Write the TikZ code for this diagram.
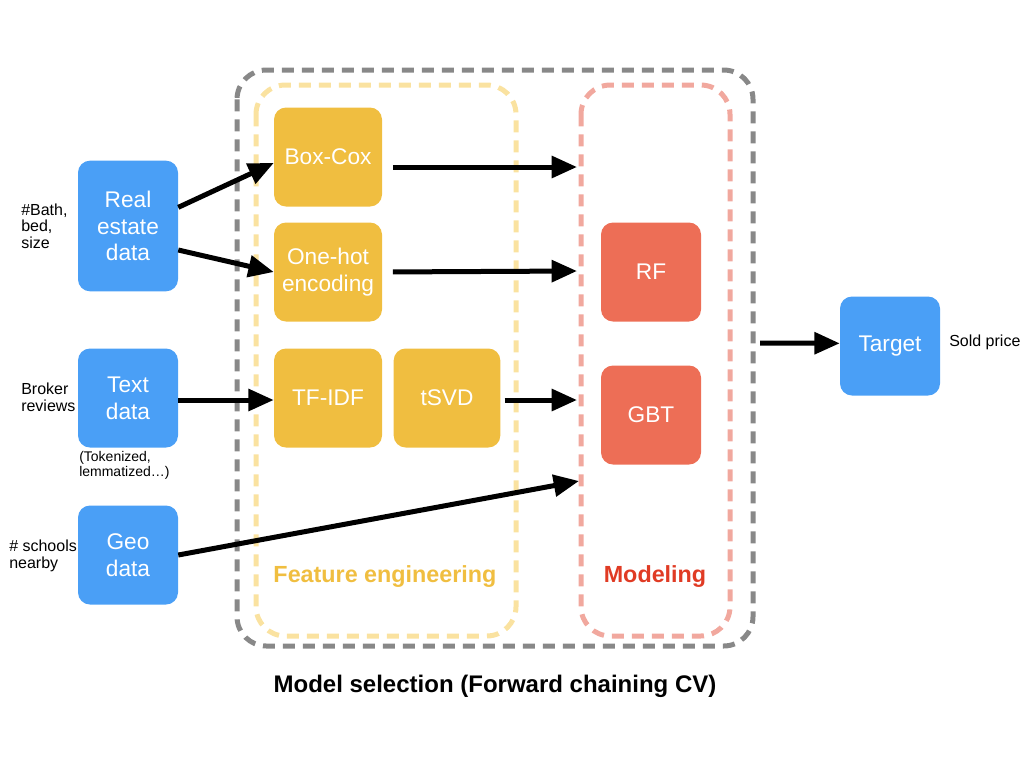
\documentclass[tikz,border=0pt]{standalone}
\usepackage{fontspec}
\setmainfont{Liberation Sans}
\usetikzlibrary{arrows.meta, positioning}

\definecolor{srcblue}{RGB}{74,159,246}
\definecolor{featyellow}{RGB}{240,190,64}
\definecolor{mdlred}{RGB}{237,110,86}
\definecolor{groupgray}{RGB}{136,136,136}
\definecolor{featlight}{RGB}{250,226,160}
\definecolor{mdllight}{RGB}{241,168,158}
\definecolor{mdltext}{RGB}{224,59,36}

\begin{document}
\begin{tikzpicture}[x=0.75pt, y=-0.75pt, on grid, node distance=89.25pt,
  box/.style={rounded corners=9pt, minimum width=75pt, minimum height=74.25pt,
    align=center, text=white, inner sep=2pt, font=\fontsize{17}{20}\selectfont},
  src/.style={box, fill=srcblue},
  feat/.style={box, fill=featyellow, minimum width=81pt},
  mdl/.style={box, fill=mdlred},
  flow/.style={line width=3.75pt, -{Triangle[length=19pt, width=16pt]}},
  group/.style={line width=3.75pt, dash pattern=on 9pt off 6pt, rounded corners=22pt},
  note/.style={anchor=west, inner sep=0pt, align=left, font=\fontsize{12}{12.5}\selectfont}]

  \useasboundingbox (0,0) rectangle (1024,768);

  % dashed groups
  \draw[group, groupgray] (237,70) rectangle (753,646);
  \draw[group, featlight] (256,85) rectangle (516,636);
  \draw[group, mdllight] (581,85) rectangle (730,636);

  % inputs
  \node[src, minimum height=98pt] (real) at (128,226) {Real\\estate\\data};
  \node[src] (text) at (128,398) {Text\\data};
  \node[src] (geo) at (128,555) {Geo\\data};

  % feature engineering
  \node[feat] (boxcox) at (328,157) {Box-Cox};
  \node[feat] (onehot) at (328,272) {One-hot\\encoding};
  \node[feat] (tfidf) at (328,398) {TF-IDF};
  \node[feat, minimum width=80pt] (tsvd) [right=of tfidf] {tSVD};

  % models
  \node[mdl] (rf) at (651,272) {RF};
  \node[mdl] (gbt) at (651,415) {GBT};

  \node[src] (target) at (890,346) {Target};

  % notes
  \node[note] (n_real) at (21,226) {\#Bath,\\bed,\\size};
  \node[note] (n_text) at (21,397) {Broker\\reviews};
  \node[note, font=\fontsize{10.5}{11.3}\selectfont] (n_tok) at (79,465) {(Tokenized,\\lemmatized…)};
  \node[note] (n_geo) at (9,556) {\# schools\\nearby};
  \node[note] (n_target) at (949,342) {Sold price};

  % group labels
  \node[font=\bfseries\fontsize{17.5}{20}\selectfont, text=featyellow] (l_feat) at (385,577) {Feature engineering};
  \node[font=\bfseries\fontsize{17.5}{20}\selectfont, text=mdltext] (l_mdl) at (655,577) {Modeling};
  \node[font=\bfseries\fontsize{18}{20}\selectfont] (l_sel) at (495,686) {Model selection (Forward chaining CV)};

  % free ends at the modeling group
  \coordinate (m_boxcox) at (577,167);
  \coordinate (m_onehot) at (577,271);
  \coordinate (m_tsvd) at (577,400);
  \coordinate (m_geo) at (579,481);
  \coordinate (m_out) at (760,343);

  \draw[flow] ([yshift=14pt]real.east) -- ([yshift=-4.5pt]boxcox.west);
  \draw[flow] ([yshift=-18pt]real.east) -- (onehot.west);
  \draw[flow] ([yshift=-1.5pt]text.east) -- ([yshift=-1.5pt]tfidf.west);
  \draw[flow] (geo.east) -- (m_geo);
  \draw[flow, shorten <=8pt] ([yshift=-7.5pt]boxcox.east) -- (m_boxcox);
  \draw[flow, shorten <=8pt] (onehot.east) -- (m_onehot);
  \draw[flow, shorten <=3pt] ([yshift=-1.5pt]tsvd.east) -- (m_tsvd);
  \draw[flow] (m_out) -- ([yshift=2pt]target.west);
\end{tikzpicture}
\end{document}
